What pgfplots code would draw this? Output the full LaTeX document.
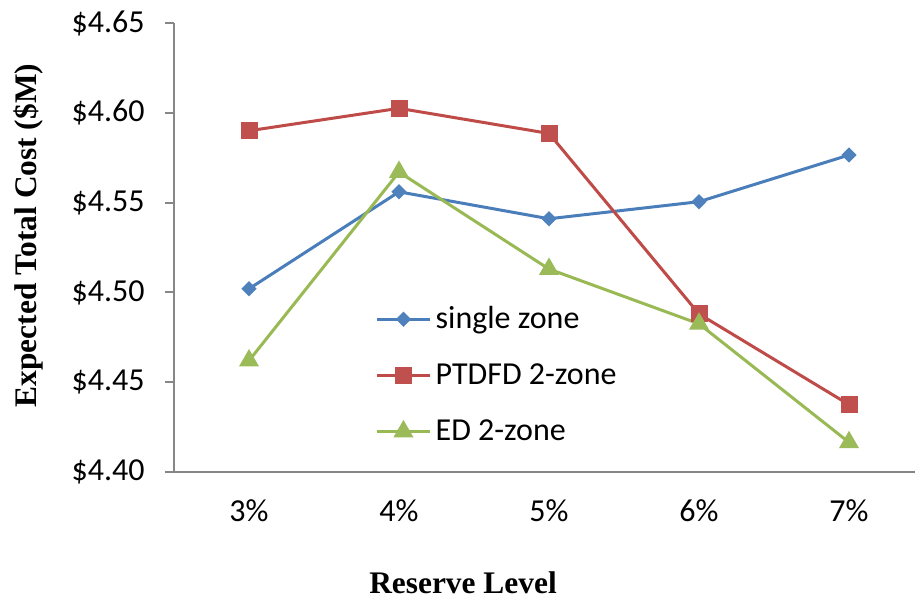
\documentclass[border=0pt]{standalone}
\usepackage{pgfplots}
\pgfplotsset{compat=1.18}
\usepackage{fontspec}
\setmainfont{Carlito}
\newfontfamily\timesfont{Liberation Serif}
\definecolor{sblue}{HTML}{4A7EBB}
\definecolor{sred}{HTML}{BE4B48}
\definecolor{sgreen}{HTML}{98B954}
\definecolor{mblue}{HTML}{4F81BD}
\definecolor{mred}{HTML}{C0504D}
\definecolor{mgreen}{HTML}{9BBB59}
\definecolor{axgray}{HTML}{868686}
\begin{document}
\begin{tikzpicture}
\begin{axis}[
  scale only axis,
  width=370.5pt, height=224.5pt,
  xmin=-0.5, xmax=4.44,
  ymin=4.40, ymax=4.65,
  axis x line*=bottom, axis y line*=left,
  axis line style={-, draw=axgray, line width=1pt},
  tick align=outside,
  major tick length=4.5pt,
  tick style={draw=axgray, line width=1pt},
  xtick={0,1,2,3,4},
  xticklabels={3\%,4\%,5\%,6\%,7\%},
  xtick style={draw=none},
  extra x ticks={-0.5,0.5,1.5,2.5,3.5},
  extra x tick labels={},
  extra x tick style={tick style={draw=axgray, line width=1pt}},
  ytick={4.40,4.45,4.50,4.55,4.60,4.65},
  yticklabels={\$4.40,\$4.45,\$4.50,\$4.55,\$4.60,\$4.65},
  ticklabel style={font=\fontsize{16}{19}\selectfont},
  yticklabel style={inner sep=0pt, anchor=east, xshift=-10pt},
  xticklabel style={inner sep=0pt, anchor=base, yshift=-20pt},
  xlabel={\timesfont\bfseries Reserve Level},
  ylabel={\timesfont\bfseries Expected Total Cost (\$M)},
  label style={font=\fontsize{15.7}{18}\selectfont},
  xlabel style={at={(axis description cs:0.39,-0.2467)}, anchor=center},
  ylabel style={at={(axis description cs:-0.197,0.5267)}, anchor=center, rotate=0},
  legend style={at={(axis description cs:0.271,0.378)}, anchor=north west,
    draw=none, fill=none, font=\fontsize{16}{19}\selectfont,
    row sep=12pt, inner sep=0pt},
  legend cell align=left,
  legend image code/.code={\draw[mark repeat=2,mark phase=2] plot coordinates {(0cm,0cm)(0.47cm,0cm)(0.94cm,0cm)};},
  clip=false,
]
\addplot[sblue, line width=1.5pt, mark=square*, mark size=1.95pt, mark options={rotate=45, fill=mblue, draw=mblue}]
  coordinates {(0,4.502) (1,4.556) (2,4.541) (3,4.5505) (4,4.5765)};
\addlegendentry{single zone}
\addplot[sred, line width=1.5pt, mark=square*, mark size=3.5pt, mark options={fill=mred, draw=mred}]
  coordinates {(0,4.590) (1,4.6025) (2,4.5885) (3,4.488) (4,4.4375)};
\addlegendentry{PTDFD 2-zone}
\addplot[sgreen, line width=1.5pt, mark=triangle*, mark size=4.3pt, mark options={fill=mgreen, draw=mgreen}]
  coordinates {(0,4.462) (1,4.567) (2,4.513) (3,4.4825) (4,4.4165)};
\addlegendentry{ED 2-zone}
\end{axis}
\pgfresetboundingbox
\useasboundingbox (-87pt,-64pt) rectangle (370.5pt,236pt);
\end{tikzpicture}
\end{document}
